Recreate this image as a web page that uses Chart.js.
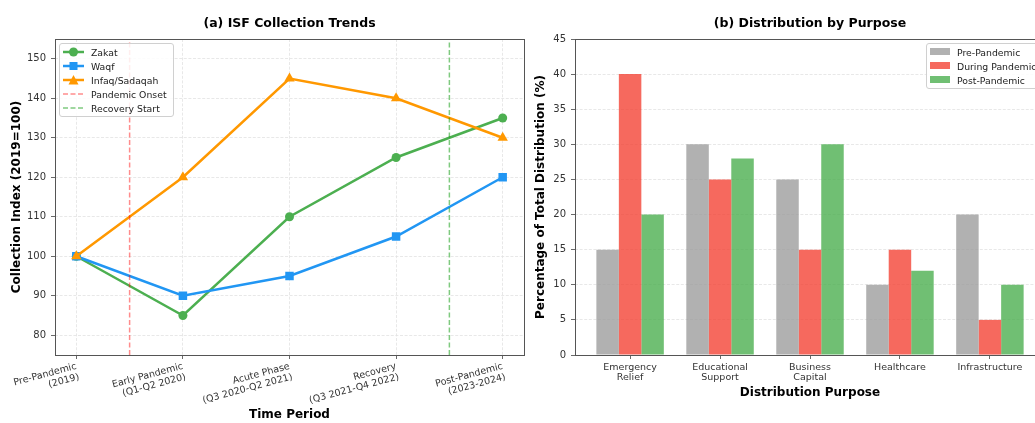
<!DOCTYPE html>
<html>
<head>
<meta charset="utf-8">
<script src="https://cdn.jsdelivr.net/npm/chart.js@4.4.1/dist/chart.umd.min.js"></script>
<style>
  html, body { margin: 0; padding: 0; background: #fff; }
  body { width: 1035px; height: 423px; overflow: hidden; position: relative; font-family: "DejaVu Sans", sans-serif; }
  .panel { position: absolute; top: 0; }
  #trendCanvas { left: 0; }
  #purposeCanvas { left: 520px; }
  .legend { position: absolute; background: rgba(255,255,255,0.85); border: 1px solid #d0d0d0; border-radius: 3px;
            padding: 1px 6px 1px 3px; font-size: 9.3px; color: #222; box-sizing: border-box; }
  .legend .item { display: flex; align-items: center; height: 14px; white-space: nowrap; }
  .legend svg { margin-right: 7px; flex: none; }
  #trendLegend { left: 59px; top: 43px; }
  #purposeLegend { left: 926px; top: 43px; padding-left: 3px; }
</style>
</head>
<body>
<canvas id="trendCanvas" class="panel" width="530" height="423"></canvas>
<canvas id="purposeCanvas" class="panel" width="535" height="423"></canvas>
<div id="trendLegend" class="legend"></div>
<div id="purposeLegend" class="legend"></div>
<script>
// ---- data: (a) collection trends ----
const periodLabels = [
    ['Pre-Pandemic', '(2019)'],
    ['Early Pandemic', '(Q1-Q2 2020)'],
    ['Acute Phase', '(Q3 2020-Q2 2021)'],
    ['Recovery', '(Q3 2021-Q4 2022)'],
    ['Post-Pandemic', '(2023-2024)']
];
const zakat = [100, 85, 110, 125, 135];
const waqf = [100, 90, 95, 105, 120];
const infaq = [100, 120, 145, 140, 130];
const eventNames = ['Pandemic Onset', 'Recovery Start'];
const eventAt = [0.5, 3.5];
const indexTicks = [80, 90, 100, 110, 120, 130, 140, 150];

// ---- data: (b) distribution by purpose ----
const purposes = [['Emergency', 'Relief'], ['Educational', 'Support'], ['Business', 'Capital'], 'Healthcare', 'Infrastructure'];
const prePandemic = [15, 30, 25, 10, 20];
const duringPandemic = [40, 25, 15, 15, 5];
const postPandemic = [20, 28, 30, 12, 10];

const FONT = 'DejaVu Sans';
const TICK_COLOR = '#333';
const GRID = { color: '#e2e2e2', lineWidth: 0.8, offset: false, tickColor: '#444', tickBorderDash: [], tickLength: 4, tickWidth: 0.8 };
const BORDER = { display: false, dash: [3, 1.6] };

Chart.defaults.font.family = FONT;
Chart.defaults.animation = false;

// draws the four spines around the plot area
const frame = {
    id: 'frame',
    afterDatasetsDraw(chart) {
        const { ctx, chartArea: a } = chart;
        ctx.save();
        ctx.strokeStyle = '#555';
        ctx.lineWidth = 1;
        ctx.strokeRect(Math.round(a.left) + 0.5, Math.round(a.top) + 0.5, Math.round(a.right - a.left), Math.round(a.bottom - a.top));
        ctx.restore();
    }
};

function points(values) {
    return values.map((v, i) => ({ x: i, y: v }));
}

const yMin = 75, yMax = 155;

const lineSeries = [
    { label: 'Zakat', values: zakat, color: '#4CAF50', marker: 'circle', radius: 4.5 },
    { label: 'Waqf', values: waqf, color: '#2196F3', marker: 'rect', radius: 6 },
    { label: 'Infaq/Sadaqah', values: infaq, color: '#FF9800', marker: 'triangle', radius: 6 }
];
const eventColors = ['rgba(255, 0, 0, 0.45)', 'rgba(0, 150, 0, 0.5)'];

const trendDatasets = lineSeries.map((s, i) => ({
    label: s.label,
    data: points(s.values),
    borderColor: s.color,
    backgroundColor: s.color,
    borderWidth: 2.5,
    pointStyle: s.marker,
    pointRadius: s.radius,
    pointBorderWidth: 0,
    order: 10 - i
})).concat(eventNames.map((name, i) => ({
    label: name,
    data: [{ x: eventAt[i], y: yMin }, { x: eventAt[i], y: yMax }],
    borderColor: eventColors[i],
    borderWidth: 1.5,
    borderDash: [5, 2.5],
    pointRadius: 0,
    order: 0
})));

new Chart(document.getElementById('trendCanvas'), {
    type: 'line',
    data: { datasets: trendDatasets },
    options: {
        responsive: false,
        layout: { padding: { right: 4 } },
        plugins: {
            legend: { display: false },
            tooltip: { enabled: false },
            title: {
                display: true,
                fullSize: false,
                text: '(a) ISF Collection Trends',
                color: '#000',
                font: { size: 12.5, weight: 'bold' },
                padding: { top: 16, bottom: 8 }
            }
        },
        scales: {
            x: {
                type: 'linear',
                min: -0.2,
                max: 4.2,
                afterBuildTicks: (scale) => { scale.ticks = periodLabels.map((_, i) => ({ value: i })); },
                afterFit: (scale) => { scale.height = 68; },
                ticks: {
                    autoSkip: false,
                    minRotation: 15,
                    maxRotation: 15,
                    padding: 2,
                    color: TICK_COLOR,
                    font: { size: 9.5, lineHeight: 1.15 },
                    callback: (v) => periodLabels[v]
                },
                grid: GRID,
                border: BORDER,
                title: { display: true, text: 'Time Period', color: '#000', font: { size: 12, weight: 'bold' }, padding: { top: 0, bottom: 1 } }
            },
            y: {
                min: yMin,
                max: yMax,
                afterBuildTicks: (scale) => { scale.ticks = indexTicks.map(v => ({ value: v })); },
                afterFit: (scale) => { scale.width = 55; },
                ticks: { color: TICK_COLOR, padding: 5, font: { size: 10 } },
                grid: GRID,
                border: BORDER,
                title: { display: true, text: 'Collection Index (2019=100)', color: '#000', font: { size: 12, weight: 'bold' }, padding: { top: 10 } }
            }
        }
    },
    plugins: [frame]
});

const barSeries = [
    { label: 'Pre-Pandemic', values: prePandemic, color: 'rgba(158, 158, 158, 0.8)' },
    { label: 'During Pandemic', values: duringPandemic, color: 'rgba(244, 67, 54, 0.8)' },
    { label: 'Post-Pandemic', values: postPandemic, color: 'rgba(76, 175, 80, 0.8)' }
];

new Chart(document.getElementById('purposeCanvas'), {
    type: 'bar',
    data: {
        datasets: barSeries.map(s => ({
            label: s.label,
            data: points(s.values),
            backgroundColor: s.color,
            borderWidth: 0
        }))
    },
    options: {
        responsive: false,
        layout: { padding: { right: 10 } },
        categoryPercentage: 0.75,
        barPercentage: 1,
        plugins: {
            legend: { display: false },
            tooltip: { enabled: false },
            title: {
                display: true,
                fullSize: false,
                text: '(b) Distribution by Purpose',
                color: '#000',
                font: { size: 12.5, weight: 'bold' },
                padding: { top: 16, bottom: 8 }
            }
        },
        scales: {
            x: {
                type: 'linear',
                min: -0.6125,
                max: 4.6125,
                offset: false,
                afterBuildTicks: (scale) => { scale.ticks = purposes.map((_, i) => ({ value: i })); },
                afterFit: (scale) => { scale.height = 68; },
                ticks: {
                    autoSkip: false,
                    maxRotation: 0,
                    padding: 3,
                    color: TICK_COLOR,
                    font: { size: 9.5, lineHeight: 1.1 },
                    callback: (v) => purposes[v]
                },
                grid: Object.assign({}, GRID, { drawOnChartArea: false }),
                border: BORDER,
                title: { display: true, text: 'Distribution Purpose', color: '#000', font: { size: 12, weight: 'bold' }, padding: { top: 0, bottom: 23 } }
            },
            y: {
                min: 0,
                max: 45,
                ticks: { stepSize: 5, color: TICK_COLOR, padding: 5, font: { size: 10 } },
                afterFit: (scale) => { scale.width = 55; },
                grid: GRID,
                border: BORDER,
                title: { display: true, text: 'Percentage of Total Distribution (%)', color: '#000', font: { size: 12, weight: 'bold' }, padding: { top: 14 } }
            }
        }
    },
    plugins: [frame]
});

// ---- legends (matplotlib style boxes inside the axes) ----
function markerSvg(s) {
    const c = s.color;
    let m = '';
    if (s.marker === 'circle') m = `<circle cx="10.5" cy="5" r="4.5" fill="${c}"/>`;
    if (s.marker === 'rect') m = `<rect x="6.5" y="1" width="8" height="8" fill="${c}"/>`;
    if (s.marker === 'triangle') m = `<polygon points="10.5,0 15.5,9.5 5.5,9.5" fill="${c}"/>`;
    return `<svg width="21" height="10"><line x1="0" y1="5" x2="21" y2="5" stroke="${c}" stroke-width="2.5"/>${m}</svg>`;
}
function dashSvg(color) {
    return `<svg width="21" height="10"><line x1="0" y1="5" x2="21" y2="5" stroke="${color}" stroke-width="1.5" stroke-dasharray="5,2.5"/></svg>`;
}
function patchSvg(color) {
    return `<svg width="20" height="8"><rect x="0" y="0" width="20" height="7" fill="${color}"/></svg>`;
}

const trendLegend = document.getElementById('trendLegend');
lineSeries.forEach(s => {
    trendLegend.insertAdjacentHTML('beforeend', `<div class="item">${markerSvg(s)}<span>${s.label}</span></div>`);
});
eventNames.forEach((name, i) => {
    trendLegend.insertAdjacentHTML('beforeend', `<div class="item">${dashSvg(eventColors[i])}<span>${name}</span></div>`);
});

const purposeLegend = document.getElementById('purposeLegend');
barSeries.forEach(s => {
    purposeLegend.insertAdjacentHTML('beforeend', `<div class="item">${patchSvg(s.color)}<span>${s.label}</span></div>`);
});
</script>
</body>
</html>
